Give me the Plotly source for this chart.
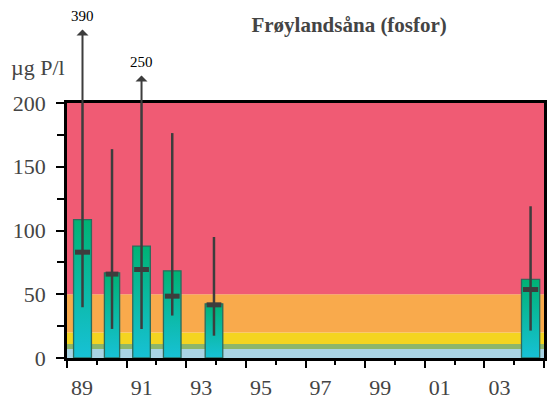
import plotly.graph_objects as go

# sampling years (bar centres, in year units) and bar widths
years = [1989.52, 1990.51, 1991.50, 1992.53, 1993.93, 2004.55]
widths = [0.60, 0.51, 0.59, 0.59, 0.59, 0.61]
mean_p = [108.5, 66.8, 87.8, 68.4, 42.5, 61.6]
median_p = [83.0, 65.8, 69.4, 48.5, 41.7, 53.7]
min_p = [39.8, 22.8, 22.8, 33.3, 17.5, 21.5]
max_p = [390, 163.8, 250, 176.4, 94.9, 119.0]

# SFT classes for total phosphorus (ug P/l)
class_limits = [0, 7, 11, 20, 50, 200]
class_colors = ['#A9D4E4', '#8DB66A', '#F4D420', '#F9AA4C', '#F05B74']

tick_years = [1989, 1991, 1993, 1995, 1997, 1999, 2001, 2003, 2005]
tick_labels = ['89', '91', '93', '95', '97', '99', '01', '03', '']

Y_MAX = 200
FONT = 'Liberation Serif, Times New Roman, DejaVu Serif, serif'
TXT = '#444444'
DARK = '#3d3d3d'

fig = go.Figure()

# class bands
for lo, hi, col in zip(class_limits[:-1], class_limits[1:], class_colors):
    fig.add_shape(type='rect', xref='paper', yref='y', x0=0, x1=1, y0=lo, y1=hi,
                  fillcolor=col, line_width=0, layer='below')

# bars with vertical gradient
for x, w, v in zip(years, widths, mean_p):
    fig.add_trace(go.Scatter(
        x=[x - w / 2, x + w / 2, x + w / 2, x - w / 2, x - w / 2],
        y=[0, 0, v, v, 0],
        mode='lines',
        fill='toself',
        fillgradient=dict(type='vertical', start=0, stop=v,
                          colorscale=[[0, '#17C1D6'], [1, '#00B274']]),
        line=dict(color='#2f6a5c', width=1.3),
        hoverinfo='skip',
        showlegend=False,
    ))

# whiskers (min - max)
wx, wy = [], []
for x, lo, hi in zip(years, min_p, max_p):
    wx += [x, x, None]
    wy += [lo, hi, None]
fig.add_trace(go.Scatter(x=wx, y=wy, mode='lines', line=dict(color=DARK, width=2.5),
                         hoverinfo='skip', showlegend=False))

# median marks
mx, my = [], []
for x, w, m in zip(years, widths, median_p):
    mx += [x - w * 0.42, x + w * 0.42, None]
    my += [m, m, None]
fig.add_trace(go.Scatter(x=mx, y=my, mode='lines', line=dict(color=DARK, width=5),
                         hoverinfo='skip', showlegend=False))

# values above the axis: arrows with labels
arrow_len = {390: -87, 250: -41}
for x, hi in zip(years, max_p):
    if hi > Y_MAX:
        fig.add_annotation(x=x, y=Y_MAX, xref='x', yref='y', ax=0, ay=arrow_len.get(hi, -50),
                           text=str(int(hi)), showarrow=True, arrowside='start',
                           arrowhead=2, arrowsize=1.1, arrowwidth=2, arrowcolor=DARK,
                           startstandoff=4,
                           font=dict(family=FONT, size=15, color='black'))

fig.add_annotation(x=-0.122, y=1.14, xref='paper', yref='paper', text='µg P/l',
                   showarrow=False, xanchor='left', yanchor='middle',
                   font=dict(family=FONT, size=22, color=TXT))

fig.update_layout(
    width=549, height=408,
    margin=dict(l=67, r=2, t=103, b=50),
    paper_bgcolor='white', plot_bgcolor='white',
    title=dict(text='<b>Frøylandsåna (fosfor)</b>', x=0.636, xanchor='center',
               y=0.94, yanchor='middle',
               font=dict(family=FONT, size=21, color=TXT)),
    font=dict(family=FONT, color=TXT),
)

fig.update_xaxes(
    range=[1989, 2005], tickmode='array', tickvals=tick_years, ticktext=tick_labels,
    ticks='outside', ticklen=7, tickwidth=1.5, tickcolor='black',
    ticklabelshift=15, ticklabelstandoff=1,
    minor=dict(tickmode='linear', tick0=1990, dtick=2, ticks='outside', ticklen=4,
               tickwidth=1.5, tickcolor='black', showgrid=False),
    showline=True, linecolor='black', linewidth=2.5, mirror=True,
    showgrid=False, zeroline=False,
    tickfont=dict(family=FONT, size=22, color=TXT),
)
fig.update_yaxes(
    range=[0, Y_MAX], tickmode='array', tickvals=[0, 50, 100, 150, 200],
    ticks='outside', ticklen=8, tickwidth=1.5, tickcolor='black',
    minor=dict(tickmode='array', tickvals=[25, 75, 125, 175], ticks='outside', ticklen=7,
               tickwidth=1.5, tickcolor='black', showgrid=False),
    showline=True, linecolor='black', linewidth=2.5, mirror=True,
    showgrid=False, zeroline=False, ticklabelstandoff=6,
    tickfont=dict(family=FONT, size=22, color=TXT),
)

fig.write_html('out.html', config={'displayModeBar': False},
               post_script="document.body.style.margin='0';")
